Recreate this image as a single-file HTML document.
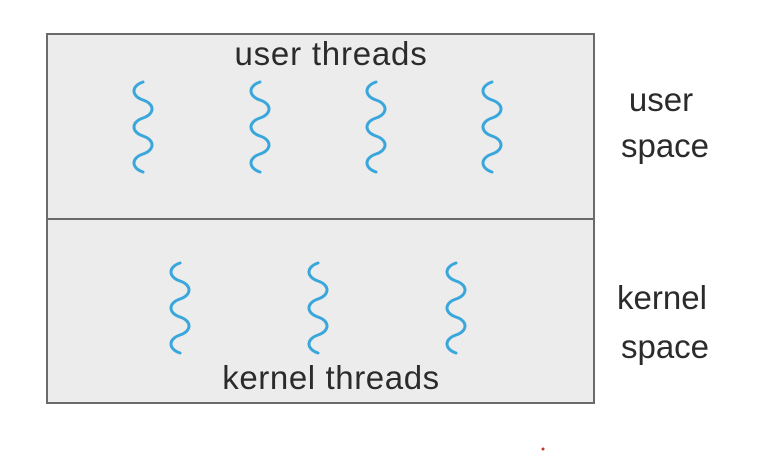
<!DOCTYPE html>
<html><head><meta charset="utf-8"><style>
html,body{margin:0;padding:0;background:#fff;}
svg{display:block;}
text{font-family:"Liberation Sans",sans-serif;fill:#2b2b2b;}
</style></head><body>
<svg width="778" height="452" viewBox="0 0 778 452" xmlns="http://www.w3.org/2000/svg">
<rect x="47" y="34" width="547" height="369" fill="#ececec" stroke="#6a6a6a" stroke-width="2"/>
<line x1="47" y1="219" x2="594" y2="219" stroke="#6a6a6a" stroke-width="2"/>
<g fill="none" stroke="#3aa7dc" stroke-width="3" stroke-linecap="round">
<path d="M143,82 c-12,4 -12,14 0,18 s12,14 0,18 s-12,14 0,18 s12,14 0,18 s-12,14 0,18"/>
<path d="M260,82 c-12,4 -12,14 0,18 s12,14 0,18 s-12,14 0,18 s12,14 0,18 s-12,14 0,18"/>
<path d="M376,82 c-12,4 -12,14 0,18 s12,14 0,18 s-12,14 0,18 s12,14 0,18 s-12,14 0,18"/>
<path d="M492,82 c-12,4 -12,14 0,18 s12,14 0,18 s-12,14 0,18 s12,14 0,18 s-12,14 0,18"/>
<path d="M180,263 c-12,4 -12,14 0,18 s12,14 0,18 s-12,14 0,18 s12,14 0,18 s-12,14 0,18"/>
<path d="M318,263 c-12,4 -12,14 0,18 s12,14 0,18 s-12,14 0,18 s12,14 0,18 s-12,14 0,18"/>
<path d="M456,263 c-12,4 -12,14 0,18 s12,14 0,18 s-12,14 0,18 s12,14 0,18 s-12,14 0,18"/>
</g>
<text x="331" y="65" font-size="33" letter-spacing="0.8" text-anchor="middle">user threads</text>
<text x="331" y="389" font-size="33" letter-spacing="0.6" text-anchor="middle">kernel threads</text>
<text x="661" y="111" font-size="33" text-anchor="middle">user</text>
<text x="665" y="157" font-size="33" text-anchor="middle">space</text>
<text x="662" y="309" font-size="33" text-anchor="middle">kernel</text>
<text x="665" y="358" font-size="33" text-anchor="middle">space</text>
<circle cx="543" cy="449" r="1.5" fill="#c0392b"/>
</svg>
</body></html>
